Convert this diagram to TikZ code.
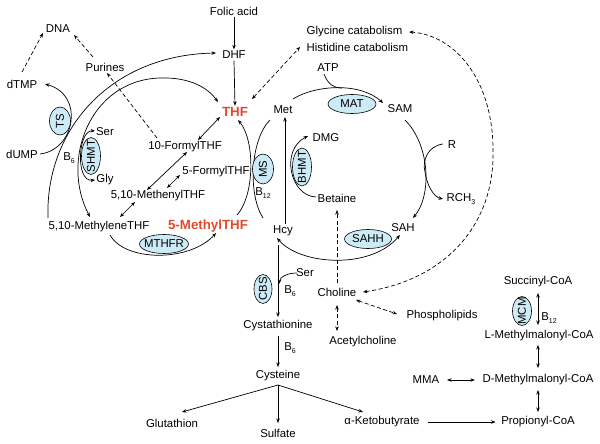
\documentclass[tikz,border=0pt]{standalone}
\usepackage{fontspec}
\setmainfont{Liberation Sans}
\usetikzlibrary{shapes.geometric,arrows.meta,calc}
\definecolor{enzfill}{RGB}{205,235,247}
\definecolor{folred}{RGB}{225,75,45}
\newcommand{\mysub}[1]{\raisebox{-0.45ex}{\fontsize{7}{8}\selectfont #1}}
\begin{document}
\begin{tikzpicture}[x=1pt,y=-1pt,
  every node/.style={font=\fontsize{11.4}{13}\selectfont, inner sep=1.5pt},
  redlbl/.style={font=\fontsize{13.3}{15}\selectfont\bfseries, text=folred},
  enz/.style={ellipse, draw, fill=enzfill, inner sep=0pt, line width=0.6pt, font=\fontsize{11.4}{13}\selectfont},
  conn/.style={line width=0.7pt, -{Stealth[length=4.5pt,width=3.5pt]}},
  bconn/.style={line width=0.7pt, {Stealth[length=4.5pt,width=3.5pt]}-{Stealth[length=4.5pt,width=3.5pt]}},
  plain/.style={line width=0.7pt},
  dsh/.style={dash pattern=on 4pt off 2.5pt},
]
\path[use as bounding box] (0,0) rectangle (600,444);

% ---------- labels ----------
\node (folic) at (234,11) {Folic acid};
\node (dhf) at (234,55) {DHF};
\node[redlbl] (thf) at (235,112) {THF};
\node[anchor=west] (glyc) at (305,32) {Glycine catabolism};
\node[anchor=west] (hist) at (305,47) {Histidine catabolism};
\node (atp) at (328,68) {ATP};
\node (met) at (283,110) {Met};
\node (sam) at (400,109) {SAM};
\node (dna) at (58,29) {DNA};
\node (purines) at (105,67) {Purines};
\node (dtmp) at (22,84) {dTMP};
\node (dump) at (22,154) {dUMP};
\node (ser) at (105,132) {Ser};
\node (gly) at (105,180) {Gly};
\node (b6a) at (69,158) {B\mysub{6}};
\node (f10) at (185,147) {10-FormylTHF};
\node (f5) at (216,172) {5-FormylTHF};
\node (methenyl) at (158,196) {5,10-MethenylTHF};
\node (methylene) at (99,227) {5,10-MethyleneTHF};
\node[redlbl] (methyl5) at (208,226) {5-MethylTHF};
\node (b12a) at (263,193) {B\mysub{12}};
\node (dmg) at (326,138) {DMG};
\node (betaine) at (337,198) {Betaine};
\node (hcy) at (283,231) {Hcy};
\node (sah) at (403,228) {SAH};
\node (r) at (452,145) {R};
\node (rch3) at (461,199) {RCH\mysub{3}};
\node (ser2) at (305,273) {Ser};
\node (b6b) at (290,291) {B\mysub{6}};
\node (cysta) at (278,326) {Cystathionine};
\node (b6c) at (290,348) {B\mysub{6}};
\node (cysteine) at (278,376) {Cysteine};
\node (glut) at (172,423) {Glutathion};
\node (sulfate) at (278,433) {Sulfate};
\node (keto) at (382,422) {α-Ketobutyrate};
\node (choline) at (337,292) {Choline};
\node (acetyl) at (363,342) {Acetylcholine};
\node (phospho) at (442,316) {Phospholipids};
\node (succ) at (538,282) {Succinyl-CoA};
\node (b12b) at (549,318) {B\mysub{12}};
\node (lmm) at (539,336) {L-Methylmalonyl-CoA};
\node (dmm) at (538,380) {D-Methylmalonyl-CoA};
\node (mma) at (426,380) {MMA};
\node (prop) at (538,422) {Propionyl-CoA};

\coordinate (atpjoin) at (342,88);
\coordinate (rtouch) at (425,172);
\coordinate (serjoin) at (279,284);

% ---------- folate cycle ----------
\draw[conn] (folic.south) -- (dhf.north);
\draw[conn] (dhf.south) -- (thf.north);
\draw[bconn,dsh] ($(thf)+(17,-13)$) -- ($(hist.west)+(-5,0)$);
\draw[conn,dsh] ($(dtmp)+(0,-12)$) -- ($(dna)+(-15,4)$);
\draw[conn,dsh] ($(purines)+(-12,-10)$) -- ($(dna)+(16,6)$);
\draw[conn,dsh] ($(f10)+(-28,-9)$) -- ($(purines)+(2,6)$);
\draw[bconn] ($(f10)+(13,-7)$) -- ($(thf)+(-15,5)$);
\draw[bconn] ($(f10)+(2,5)$) -- ($(methenyl)+(-11,-6)$);
\draw[bconn] ($(f5)+(-36,3)$) -- ($(methenyl)+(9,-8)$);
\draw[bconn] ($(methenyl)+(-23,6)$) -- ($(methylene)+(21,-10)$);
% MTHFR
\draw[conn] ($(methylene)+(11,8)$) .. controls (125,262) and (190,262) .. ($(methyl5)+(8,7)$);
% MS
\draw[conn] ($(methyl5)+(29,-11)$) .. controls (255,195) and (255,140) .. ($(thf)+(3,8)$);
\draw[plain] ($(met)+(-13,10)$) .. controls (250,140) and (248,195) .. ($(hcy)+(-20,-13)$);
% TS
\draw[conn] ($(dump)+(18,0)$) .. controls (75,150) and (85,95) .. ($(dtmp)+(23,0)$);
\draw[conn] ($(methylene)+(-51,-9)$) .. controls (45,130) and (110,55) .. ($(dhf)+(-18,-2)$);
% SHMT
\draw[bconn] ($(thf)+(-17,-10)$) .. controls (208,88) and (190,77) .. (160,78)
   .. controls (90,80) and (60,160) .. ($(methylene)+(-9,-10)$);
\draw[bconn] ($(ser)+(-10,-1)$) .. controls (78,130) and (75,182) .. ($(gly)+(-10,0)$);

% ---------- methionine cycle ----------
\draw[conn] ($(met)+(10,-11)$) .. controls (315,85) and (360,82) .. ($(sam)+(-17,-6)$);
\draw[plain] ($(atp)+(-4,6)$) .. controls (328,84) and (333,88) .. (atpjoin);
\draw[conn] ($(sam)+(5,11)$) .. controls (430,145) and (432,195) .. ($(sah)+(10,-10)$);
\draw[conn] ($(r)+(-9,-1)$) .. controls (428,146) and (422,160) .. (rtouch)
   .. controls (427,186) and (434,197) .. ($(rch3)+(-18,0)$);
\draw[bconn] ($(hcy)+(-6,7)$) .. controls (300,265) and (370,270) .. ($(sah)+(-3,7)$);
\draw[conn] ($(hcy)+(2,-7)$) -- ($(met)+(2,7)$);
\draw[conn] ($(betaine)+(-21,-1)$) .. controls (290,196) and (280,150) .. ($(dmg)+(-18,-2)$);

% ---------- transsulfuration ----------
\draw[conn] ($(hcy)+(-5,14)$) -- ($(cysta)+(0,-9)$);
\draw[conn] ($(ser2)+(-8,0)$) .. controls (287,273) and (280,277) .. (serjoin);
\draw[conn] ($(cysta)+(0,10)$) -- ($(cysteine)+(0,-9)$);
\draw[conn] ($(cysteine)+(0,9)$) -- ($(glut)+(10,-11)$);
\draw[conn] ($(cysteine)+(0,9)$) -- ($(sulfate)+(0,-10)$);
\draw[conn] ($(cysteine)+(0,9)$) -- ($(keto)+(-19,-10)$);
\draw[conn] ($(keto.east)+(7,0)$) -- ($(prop.west)+(-4,0)$);

% ---------- choline ----------
\draw[conn,dsh] ($(choline)+(0,-9)$) -- ($(betaine)+(0,12)$);
\draw[bconn,dsh] ($(choline)+(0,13)$) -- ($(acetyl)+(-26,-11)$);
\draw[bconn,dsh] ($(choline)+(19,8)$) -- ($(phospho)+(-45,-2)$);
\draw[bconn,dsh] ($(choline)+(26,0)$) .. controls (445,280) and (495,225) .. (493,150)
   .. controls (493,80) and (455,35) .. ($(glyc.east)+(5,0)$);

% ---------- propionate ----------
\draw[bconn] ($(succ)+(0,11)$) -- ($(lmm)+(-1,-11)$);
\draw[bconn] ($(lmm)+(-1,9)$) -- ($(dmm)+(0,-12)$);
\draw[bconn] ($(dmm)+(0,10)$) -- ($(prop)+(0,-10)$);
\draw[bconn] ($(mma.east)+(6,0)$) -- ($(dmm.west)+(-6,0)$);

% ---------- enzymes ----------
\node[enz, minimum width=48pt, minimum height=19pt] (mat) at (352,104) {\makebox[0pt]{MAT}};
\node[enz, rotate=90, minimum width=28pt, minimum height=21pt] (ts) at (60,121) {\makebox[0pt]{TS}};
\node[enz, rotate=90, minimum width=37pt, minimum height=19pt] (shmt) at (91,156) {\makebox[0pt]{SHMT}};
\node[enz, minimum width=49pt, minimum height=19pt] (mthfr) at (164,244) {\makebox[0pt]{MTHFR}};
\node[enz, rotate=90, minimum width=30pt, minimum height=21pt] (ms) at (263,169) {\makebox[0pt]{MS}};
\node[enz, rotate=90, minimum width=38pt, minimum height=19pt] (bhmt) at (302,167) {\makebox[0pt]{BHMT}};
\node[enz, minimum width=47pt, minimum height=19pt] (sahh) at (368,239) {\makebox[0pt]{SAHH}};
\node[enz, rotate=90, minimum width=29pt, minimum height=18pt] (cbs) at (263,289) {\makebox[0pt]{CBS}};
\node[enz, rotate=90, minimum width=29pt, minimum height=19pt] (mcm) at (522,311) {\makebox[0pt]{MCM}};
\end{tikzpicture}
\end{document}
